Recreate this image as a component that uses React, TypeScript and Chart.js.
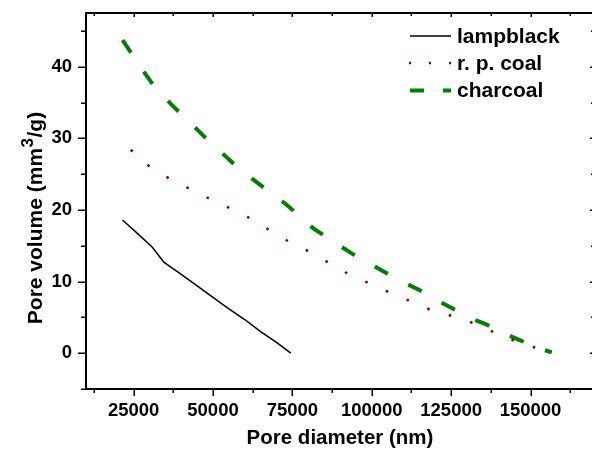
import React, { useEffect, useRef } from 'react';
import { Chart, registerables } from 'chart.js';

Chart.register(...registerables);

// ---- data ----
const lampX = [21500, 26000, 30900, 34500, 40000, 45000, 50000, 55000, 60000, 65000, 70000, 74500];
const lampY = [18.6, 16.8, 14.8, 12.7, 11.0, 9.4, 7.8, 6.2, 4.7, 3.0, 1.5, 0.0];

const rpX = [24100, 30400, 36600, 42900, 49200, 55500, 61800, 68100, 74200, 80700, 87000, 93300, 99500, 105800, 111900, 118200, 124500, 130800, 137100, 143300, 149500, 155800];
const rpY = [28.4, 25.9, 24.3, 22.9, 21.5, 20.2, 18.8, 17.1, 15.5, 14.1, 12.5, 10.9, 9.7, 8.45, 7.3, 6.1, 5.3, 4.4, 3.2, 1.95, 1.1, 0.0];

const charX = [21500, 24300, 28200, 31400, 37400, 41600, 47600, 52000, 58100, 62500, 68800, 73000, 81700, 89900, 93800, 100400, 104600, 110900, 114700, 121400, 125200, 131500, 135700, 142000, 146200, 153000, 156700];
const charY = [43.7, 41.9, 39.3, 37.3, 34.5, 32.7, 30.1, 28.3, 25.8, 24.3, 22.2, 20.8, 17.4, 15.0, 13.9, 12.25, 11.2, 9.7, 8.9, 7.2, 6.3, 4.8, 4.1, 2.7, 1.9, 0.65, 0.1];

const seriesNames = ['lampblack', 'r. p. coal', 'charcoal'];

const xMajorTicks = [25000, 50000, 75000, 100000, 125000, 150000];
const xMinorTicks = [12500, 37500, 62500, 87500, 112500, 137500, 162500];
const yMajorTicks = [0, 10, 20, 30, 40];
const yMinorTicks = [-5, 5, 15, 25, 35, 45];

const xTitle = 'Pore diameter (nm)';
const yTitleParts = ['Pore volume (mm', '3', '/g)'];

const FONT = '"Liberation Sans", Arial, Helvetica, sans-serif';
const BLACK = '#000000';
const RED = '#800000';
const GREEN = '#008000';

const toPts = (xs: number[], ys: number[]) => xs.map((x, i) => ({ x, y: ys[i] }));

const framePlugin = {
  id: 'frame',
  afterDraw(chart: any) {
    const { ctx, chartArea: a, scales } = chart;
    const xs = scales.x;
    const ys = scales.y;
    ctx.save();
    // axis frame
    ctx.strokeStyle = BLACK;
    ctx.lineWidth = 2;
    ctx.strokeRect(a.left, a.top, a.right - a.left, a.bottom - a.top);

    ctx.lineWidth = 1.5;
    ctx.beginPath();
    xMajorTicks.forEach((v) => {
      const p = Math.round(xs.getPixelForValue(v)) + 0.25;
      ctx.moveTo(p, a.bottom); ctx.lineTo(p, a.bottom + 7);
      ctx.moveTo(p, a.top); ctx.lineTo(p, a.top + 4);
    });
    xMinorTicks.forEach((v) => {
      const p = Math.round(xs.getPixelForValue(v)) + 0.25;
      ctx.moveTo(p, a.bottom); ctx.lineTo(p, a.bottom + 4);
      ctx.moveTo(p, a.top); ctx.lineTo(p, a.top + 3);
    });
    yMajorTicks.forEach((v) => {
      const p = Math.round(ys.getPixelForValue(v)) + 0.25;
      ctx.moveTo(a.left - 8, p); ctx.lineTo(a.left, p);
      ctx.moveTo(a.right, p); ctx.lineTo(a.right - 4, p);
    });
    yMinorTicks.forEach((v) => {
      const p = Math.round(ys.getPixelForValue(v)) + 0.25;
      ctx.moveTo(a.left - 5, p); ctx.lineTo(a.left, p);
      ctx.moveTo(a.right, p); ctx.lineTo(a.right - 3, p);
    });
    ctx.stroke();

    // legend
    const lx0 = 410, lx1 = 451, tx = 457;
    const rows = [36, 63, 90.5];
    ctx.lineCap = 'butt';
    ctx.setLineDash([]);
    ctx.strokeStyle = BLACK; ctx.lineWidth = 1.5;
    ctx.beginPath(); ctx.moveTo(lx0, rows[0]); ctx.lineTo(lx1, rows[0]); ctx.stroke();
    ctx.strokeStyle = RED; ctx.lineWidth = 2.5;
    ctx.setLineDash([2, 18]);
    ctx.beginPath(); ctx.moveTo(lx0 - 1, rows[1]); ctx.lineTo(lx1, rows[1]); ctx.stroke();
    ctx.strokeStyle = GREEN; ctx.lineWidth = 4;
    ctx.setLineDash([14, 19]);
    ctx.beginPath(); ctx.moveTo(lx0, rows[2]); ctx.lineTo(lx1, rows[2]); ctx.stroke();
    ctx.setLineDash([]);

    ctx.fillStyle = BLACK;
    ctx.font = `bold 21px ${FONT}`;
    ctx.textAlign = 'left';
    ctx.textBaseline = 'middle';
    seriesNames.forEach((n, i) => ctx.fillText(n, tx, rows[i] + 1));

    // y title with superscript
    const big = `bold 21px ${FONT}`;
    const small = `bold 17px ${FONT}`;
    ctx.font = big;
    const w1 = ctx.measureText(yTitleParts[0]).width;
    const w3 = ctx.measureText(yTitleParts[2]).width;
    ctx.font = small;
    const w2 = ctx.measureText(yTitleParts[1]).width;
    const total = w1 + w2 + w3 + 1;
    const cy = 218;
    ctx.translate(41.5, cy + total / 2);
    ctx.rotate(-Math.PI / 2);
    ctx.textBaseline = 'alphabetic';
    ctx.font = big;
    ctx.fillText(yTitleParts[0], 0, 0);
    ctx.font = small;
    ctx.fillText(yTitleParts[1], w1 + 0.5, -9);
    ctx.font = big;
    ctx.fillText(yTitleParts[2], w1 + w2 + 1, 0);
    ctx.restore();
  },
};

export default function App() {
  const ref = useRef<HTMLCanvasElement | null>(null);
  useEffect(() => {
    if (!ref.current) return;
    const chart = new Chart(ref.current, {
      type: 'line',
      data: {
        datasets: [
          {
            label: seriesNames[0],
            data: toPts(lampX, lampY),
            borderColor: BLACK,
            borderWidth: 1.5,
            pointRadius: 0,
            tension: 0,
          },
          {
            label: seriesNames[1],
            data: toPts(rpX, rpY),
            borderColor: RED,
            borderWidth: 2.5,
            borderDash: [2.5, 20],
            borderCapStyle: 'butt',
            pointRadius: 0,
            tension: 0,
          },
          {
            label: seriesNames[2],
            data: toPts(charX, charY),
            borderColor: GREEN,
            borderWidth: 4,
            borderDash: [15, 23],
            borderCapStyle: 'butt',
            pointRadius: 0,
            tension: 0,
          },
        ],
      },
      options: {
        responsive: false,
        animation: false,
        devicePixelRatio: 1,
        layout: { padding: { top: 13, right: 26, left: 0, bottom: 0 } },
        plugins: { legend: { display: false }, tooltip: { enabled: false } },
        scales: {
          x: {
            type: 'linear',
            min: 10000,
            max: 170000,
            afterBuildTicks: (s: any) => { s.ticks = xMajorTicks.map((v) => ({ value: v })); },
            afterFit: (s: any) => { s.height = 65; s.paddingLeft = 0; s.paddingRight = 0; },
            grid: { display: false, drawTicks: false },
            border: { display: false },
            ticks: {
              autoSkip: false,
              maxRotation: 0,
              padding: 11,
              color: BLACK,
              font: { family: FONT, size: 18.5, weight: 'bold' },
              callback: (v: any) => String(v),
            },
            title: {
              display: true,
              text: xTitle,
              color: BLACK,
              font: { family: FONT, size: 20.5, weight: 'bold' },
              padding: { top: 0, bottom: 3 },
            },
          },
          y: {
            type: 'linear',
            min: -5,
            max: 47.5,
            afterBuildTicks: (s: any) => { s.ticks = yMajorTicks.map((v) => ({ value: v })); },
            afterFit: (s: any) => { s.width = 86; s.paddingTop = 0; s.paddingBottom = 0; },
            grid: { display: false, drawTicks: false },
            border: { display: false },
            ticks: {
              autoSkip: false,
              padding: 14,
              color: BLACK,
              font: { family: FONT, size: 18.5, weight: 'bold' },
              callback: (v: any) => String(v),
            },
          },
        },
      },
      plugins: [framePlugin],
    } as any);
    return () => chart.destroy();
  }, []);
  return (
    <div style={{ position: 'absolute', left: 0, top: 0, width: 592, height: 454, overflow: 'hidden', background: '#ffffff' }}>
      <canvas ref={ref} width={620} height={454} style={{ display: 'block', width: 620, height: 454 }} />
    </div>
  );
}
